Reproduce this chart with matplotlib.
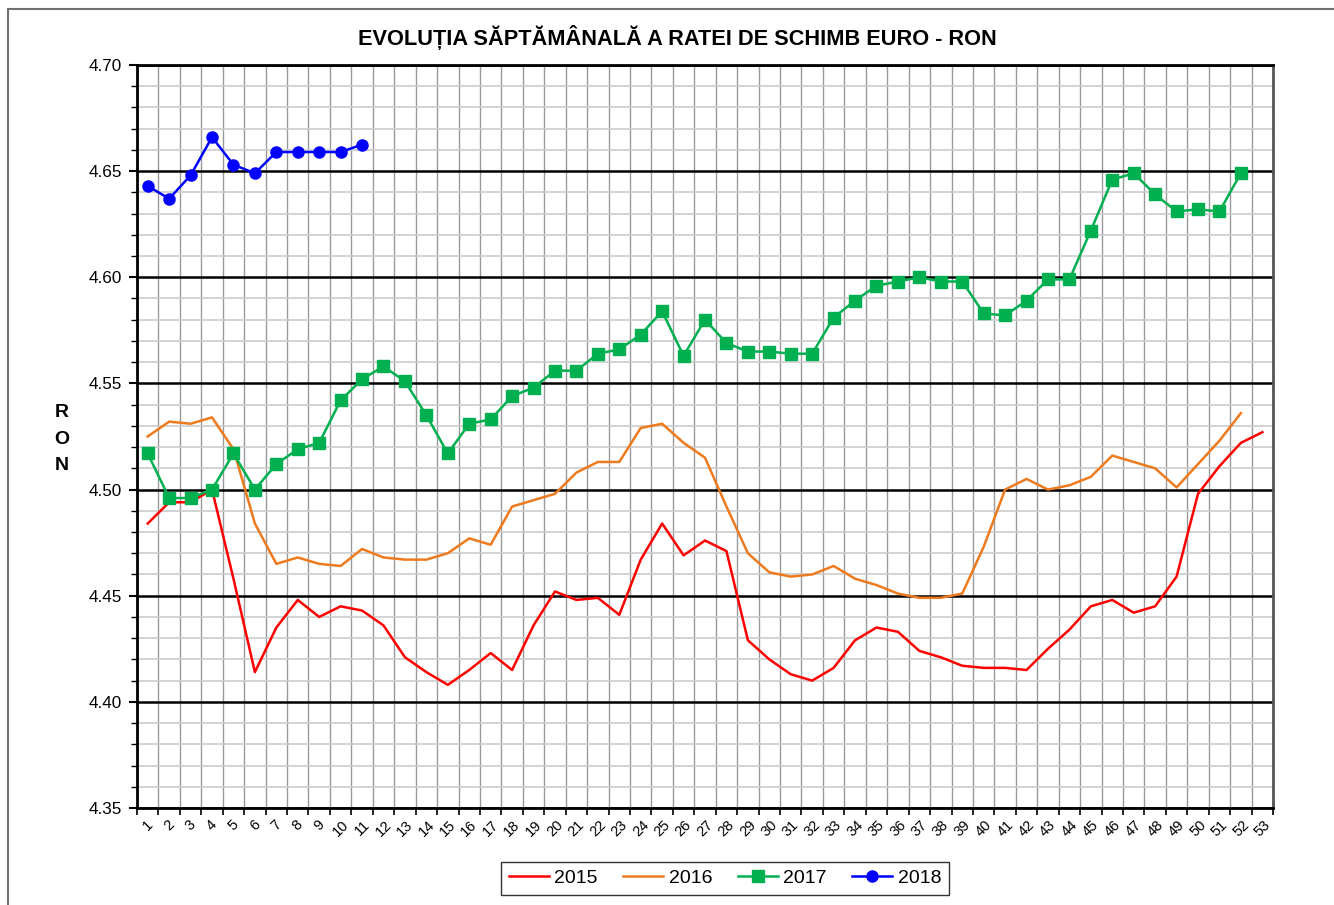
import matplotlib.pyplot as plt
from matplotlib.patches import Rectangle
from matplotlib.ticker import MultipleLocator, FixedLocator, NullFormatter

plt.rcParams["font.family"] = ["Liberation Sans", "DejaVu Sans"]

weeks = list(range(1, 54))

rate_2015 = [4.484, 4.494, 4.494, 4.500, 4.458, 4.414, 4.435, 4.448, 4.440, 4.445,
             4.443, 4.436, 4.421, 4.414, 4.408, 4.415, 4.423, 4.415, 4.436, 4.452,
             4.448, 4.449, 4.441, 4.467, 4.484, 4.469, 4.476, 4.471, 4.429, 4.420,
             4.413, 4.410, 4.416, 4.429, 4.435, 4.433, 4.424, 4.421, 4.417, 4.416,
             4.416, 4.415, 4.425, 4.434, 4.445, 4.448, 4.442, 4.445, 4.459, 4.498,
             4.511, 4.522, 4.527]
rate_2016 = [4.525, 4.532, 4.531, 4.534, 4.519, 4.484, 4.465, 4.468, 4.465, 4.464,
             4.472, 4.468, 4.467, 4.467, 4.470, 4.477, 4.474, 4.492, 4.495, 4.498,
             4.508, 4.513, 4.513, 4.529, 4.531, 4.522, 4.515, 4.492, 4.470, 4.461,
             4.459, 4.460, 4.464, 4.458, 4.455, 4.451, 4.449, 4.449, 4.451, 4.473,
             4.500, 4.505, 4.500, 4.502, 4.506, 4.516, 4.513, 4.510, 4.501, 4.512,
             4.523, 4.536]
rate_2017 = [4.517, 4.496, 4.496, 4.500, 4.517, 4.500, 4.512, 4.519, 4.522, 4.542,
             4.552, 4.558, 4.551, 4.535, 4.517, 4.531, 4.533, 4.544, 4.548, 4.556,
             4.556, 4.564, 4.566, 4.573, 4.584, 4.563, 4.580, 4.569, 4.565, 4.565,
             4.564, 4.564, 4.581, 4.589, 4.596, 4.598, 4.600, 4.598, 4.598, 4.583,
             4.582, 4.589, 4.599, 4.599, 4.622, 4.646, 4.649, 4.639, 4.631, 4.632,
             4.631, 4.649]
rate_2018 = [4.643, 4.637, 4.648, 4.666, 4.653, 4.649, 4.659, 4.659, 4.659, 4.659,
             4.6625]

fig = plt.figure(figsize=(13.34, 9.05), dpi=100)
ax = fig.add_axes([0.1027, 0.1072, 0.8516, 0.8210])

ax.plot(weeks[:len(rate_2015)], rate_2015, color="#FF0000", lw=1.8, label="2015")
ax.plot(weeks[:len(rate_2016)], rate_2016, color="#EE7A1E", lw=1.8, label="2016")
ax.plot(weeks[:len(rate_2017)], rate_2017, color="#00B050", lw=1.8,
        marker="s", markersize=8, label="2017")
ax.plot(weeks[:len(rate_2018)], rate_2018, color="#0000FF", lw=1.8,
        marker="o", markersize=8, label="2018")

ax.set_xlim(0.5, 53.5)
ax.set_ylim(4.35, 4.70)

# x: labels on the weeks, grid and ticks on the boundaries
ax.xaxis.set_major_locator(FixedLocator(weeks))
ax.xaxis.set_minor_locator(FixedLocator([w + 0.5 for w in range(0, 54)]))
ax.set_xticklabels([str(w) for w in weeks], rotation=45, fontsize=10.5)
ax.tick_params(axis="x", which="major", length=0, pad=7)
ax.tick_params(axis="x", which="minor", length=5, width=1.2, direction="out")
ax.grid(axis="x", which="minor", color="#999999", lw=1.0)

# y: black lines every 0.05, light lines every 0.01
ax.yaxis.set_major_locator(MultipleLocator(0.05))
ax.yaxis.set_minor_locator(MultipleLocator(0.01))
ax.yaxis.set_major_formatter(lambda v, pos: f"{v:.2f}")
ax.yaxis.set_minor_formatter(NullFormatter())
ax.tick_params(axis="y", which="major", length=6, width=1.5, labelsize=12.3, pad=5)
ax.tick_params(axis="y", which="minor", length=4, width=1.0)
ax.grid(axis="y", which="major", color="black", lw=1.8)
ax.grid(axis="y", which="minor", color="#CCCCCC", lw=1.2)
ax.set_axisbelow(True)

for side in ["left", "bottom", "top"]:
    ax.spines[side].set_linewidth(2)
    ax.spines[side].set_color("black")
ax.spines["right"].set_linewidth(2)
ax.spines["right"].set_color("#555555")

fig.text(62 / 1334, 1 - 439 / 905, "R\nO\nN", ha="center", va="center",
         fontsize=14, fontweight="bold", linespacing=1.75)

fig.text(0.5075, 0.959, "EVOLUȚIA SĂPTĂMÂNALĂ A RATEI DE SCHIMB EURO - RON",
         ha="center", va="center", fontsize=15.7, fontweight="bold")

leg = fig.legend(loc="lower center", bbox_to_anchor=(0.5435, 0.011), ncol=4,
                 fontsize=14, frameon=True, fancybox=False, edgecolor="black",
                 handlelength=2.05, handletextpad=0.3, columnspacing=1.3,
                 borderpad=0.4, borderaxespad=0)
leg.get_frame().set_linewidth(1.0)

# outer chart-area border, only its top and left edges fall inside the image
fig.patches.append(Rectangle((8 / 1334, -0.1), 1.1, 0.1 + 1 - 9 / 905,
                             transform=fig.transFigure, fill=False,
                             edgecolor="#707070", lw=1.5))

fig.savefig("out.png", dpi=100)
